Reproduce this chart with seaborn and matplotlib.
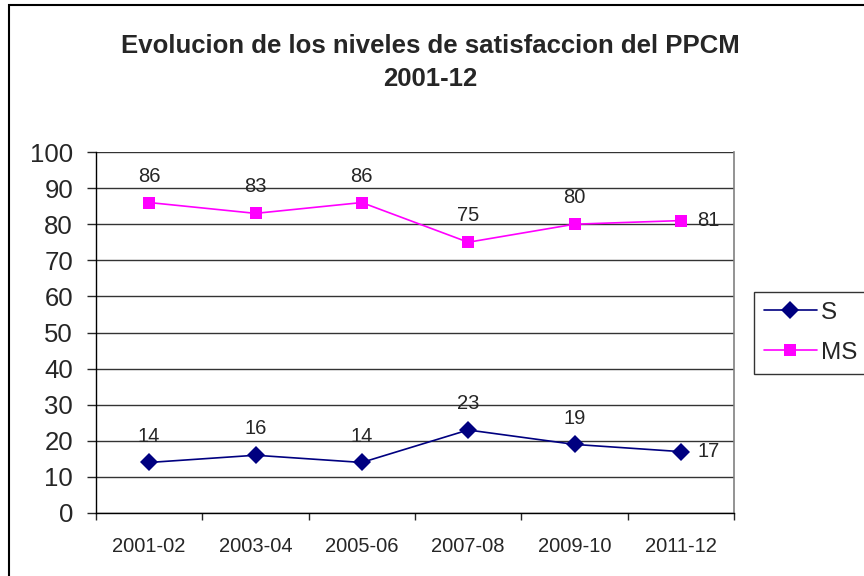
import pandas as pd
import matplotlib
matplotlib.use("Agg")
import matplotlib.pyplot as plt
import seaborn as sns
from matplotlib.patches import Rectangle

sns.set_style("white")
plt.rcParams['font.family'] = ['Liberation Sans', 'DejaVu Sans']

# -------------------
# Data
# -------------------
periods = ["2001-02", "2003-04", "2005-06", "2007-08", "2009-10", "2011-12"]
s_values = [14, 16, 14, 23, 19, 17]
ms_values = [86, 83, 86, 75, 80, 81]

df = pd.DataFrame({
    "periodo": periods * 2,
    "x": list(range(len(periods))) * 2,
    "valor": s_values + ms_values,
    "serie": ["S"] * len(periods) + ["MS"] * len(periods),
})

# -------------------
# Figure
# -------------------
fig = plt.figure(figsize=(8.64, 5.76), dpi=100)
ax = fig.add_axes([96 / 864, 1 - 513 / 576, (734 - 96) / 864, (513 - 152) / 576])

sns.lineplot(data=df, x="x", y="valor", hue="serie", style="serie",
             palette={"S": "#000080", "MS": "#FF00FF"},
             markers={"S": "D", "MS": "s"}, dashes=False,
             markersize=9, linewidth=1.2, markeredgewidth=0,
             ax=ax, legend=False)

# data labels
for vals in (s_values, ms_values):
    for i, v in enumerate(vals):
        if i == len(vals) - 1:
            ax.annotate(str(v), (i, v), xytext=(20, 0), textcoords="offset points",
                        ha="center", va="center", fontsize=14.5)
        else:
            ax.annotate(str(v), (i, v), xytext=(0, 19), textcoords="offset points",
                        ha="center", va="center", fontsize=14.5)

ax.set_xlim(-0.5, len(periods) - 0.5)
ax.set_ylim(0, 100)
ax.set_yticks(range(0, 101, 10))
ax.set_xticks(range(len(periods)))
ax.set_xticklabels(periods, fontsize=14.5)
ax.set_xticks([i - 0.5 for i in range(len(periods) + 1)], minor=True)
ax.tick_params(axis="x", which="major", length=0, pad=17)
ax.tick_params(axis="x", which="minor", length=5, width=1, direction="out", bottom=True)
ax.tick_params(axis="y", length=6.5, width=1, direction="out", left=True, labelsize=18.5, pad=10)
ax.set_xlabel("")
ax.set_ylabel("")

ax.grid(axis="y", color="#333333", linewidth=1)
ax.set_axisbelow(True)
for side in ("left", "bottom"):
    ax.spines[side].set_color("black")
    ax.spines[side].set_linewidth(1)
ax.spines["right"].set_color("#808080")
ax.spines["right"].set_linewidth(1.2)
ax.spines["top"].set_visible(False)

# legend
handles = [
    plt.Line2D([], [], color="#000080", marker="D", markersize=9, linewidth=1.2, markeredgewidth=0),
    plt.Line2D([], [], color="#FF00FF", marker="s", markersize=9, linewidth=1.2, markeredgewidth=0),
]
leg = fig.legend(handles, ["S", "MS"], loc="upper left",
                 bbox_to_anchor=(754 / 864, 1 - 292 / 576),
                 fontsize=17.5, frameon=True, fancybox=False,
                 edgecolor="black", handlelength=2.2, borderaxespad=0,
                 borderpad=0.4, labelspacing=0.75, handletextpad=0.15)
leg.get_frame().set_linewidth(1)

# title
fig.text(0.498, 1 - 46 / 576, "Evolucion de los niveles de satisfaccion del PPCM",
         ha="center", va="center", fontsize=18.5, fontweight="bold")
fig.text(0.498, 1 - 79 / 576, "2001-12",
         ha="center", va="center", fontsize=18.5, fontweight="bold")

# outer chart border
fig.patches.append(Rectangle((9 / 864, -0.05), 1.1, 1.05 - 5 / 576, transform=fig.transFigure,
                             fill=False, edgecolor="black", linewidth=1.5))

plt.savefig("out.png", dpi=100)
